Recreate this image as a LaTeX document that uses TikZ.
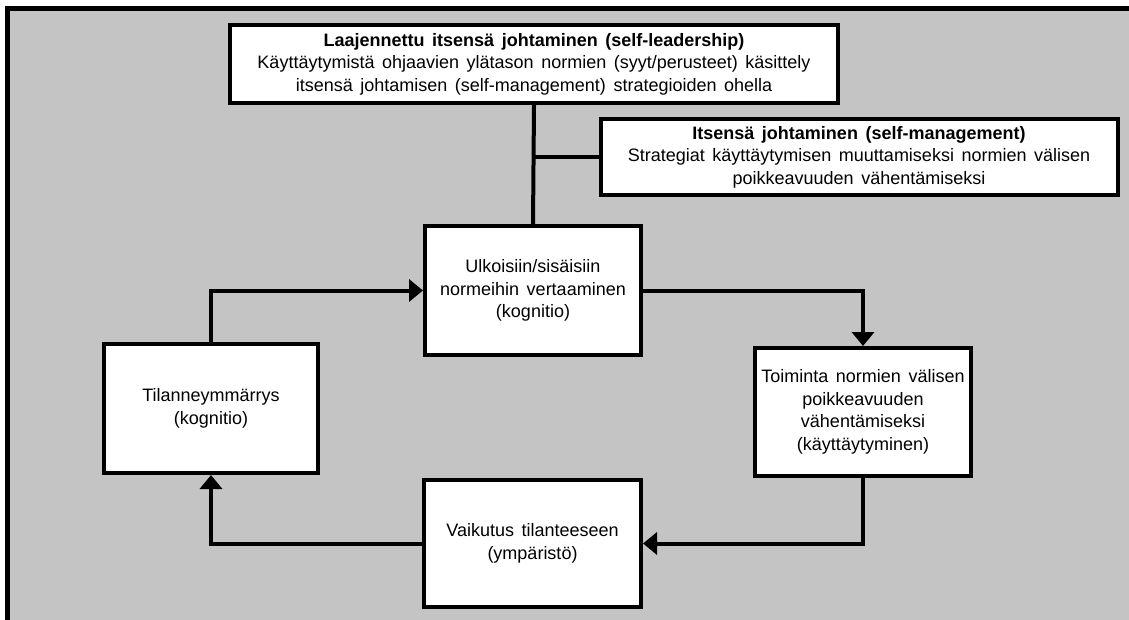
\documentclass[tikz,border=0pt]{standalone}
\usepackage{fontspec}
\setmainfont{Liberation Sans}
\usetikzlibrary{arrows.meta}
\definecolor{panelgray}{RGB}{196,196,196}
\newcommand{\boxfont}{\fontsize{18}{22.5}\selectfont\spaceskip=0.42em plus 0.1em\relax}
\begin{document}
\begin{tikzpicture}[x=1pt, y=-1pt, >={Triangle[length=14pt,width=22pt]},
    box/.style={draw, fill=white, line width=4pt, align=center, inner sep=2pt,
        font=\boxfont},
    link/.style={line width=4pt},
    flow/.style={line width=4pt, ->}]
            \useasboundingbox (0,0) rectangle (1129,619);
            \fill[white] (0,0) rectangle (1129,619);
            \draw[line width=4.5pt, fill=panelgray] (7.5,8.5) rectangle (1145,640);
            \node[box, minimum width=608pt, minimum height=78pt] (lead) at (534,64)
                {\textbf{Laajennettu itsensä johtaminen (self-leadership)}\\
                 Käyttäytymistä ohjaavien ylätason normien (syyt/perusteet) käsittely\\
                 itsensä johtamisen (self-management) strategioiden ohella};
            \node[box, minimum width=517pt, minimum height=76pt] (manage) at (859,157)
                {\textbf{Itsensä johtaminen (self-management)}\\
                 Strategiat käyttäytymisen muuttamiseksi normien välisen\\
                 poikkeavuuden vähentämiseksi};
            \node[box, minimum width=216pt, minimum height=129pt] (compare) at (533,290.5)
                {Ulkoisiin/sisäisiin\\ normeihin vertaaminen\\ (kognitio)};
            \node[box, minimum width=214pt, minimum height=129pt] (situ) at (211,408.5)
                {Tilanneymmärrys\\ (kognitio)};
            \node[box, minimum width=216pt, minimum height=128pt] (action) at (863,412)
                {Toiminta normien välisen\\ poikkeavuuden\\ vähentämiseksi\\ (käyttäytyminen)};
            \node[box, minimum width=217pt, minimum height=127pt] (effect) at (532.5,543.5)
                {Vaikutus tilanteeseen\\ (ympäristö)};
            \draw[link] (lead.south) -- (compare.north);
            \draw[link] (compare.north |- manage.west) -- (manage.west);
            \draw[flow] (situ.north) |- (compare.west);
            \draw[flow] (compare.east) -| (action.north);
            \draw[flow] (action.south) |- (effect.east);
            \draw[flow] (effect.west) -| (situ.south);
        \end{tikzpicture}
\end{document}
